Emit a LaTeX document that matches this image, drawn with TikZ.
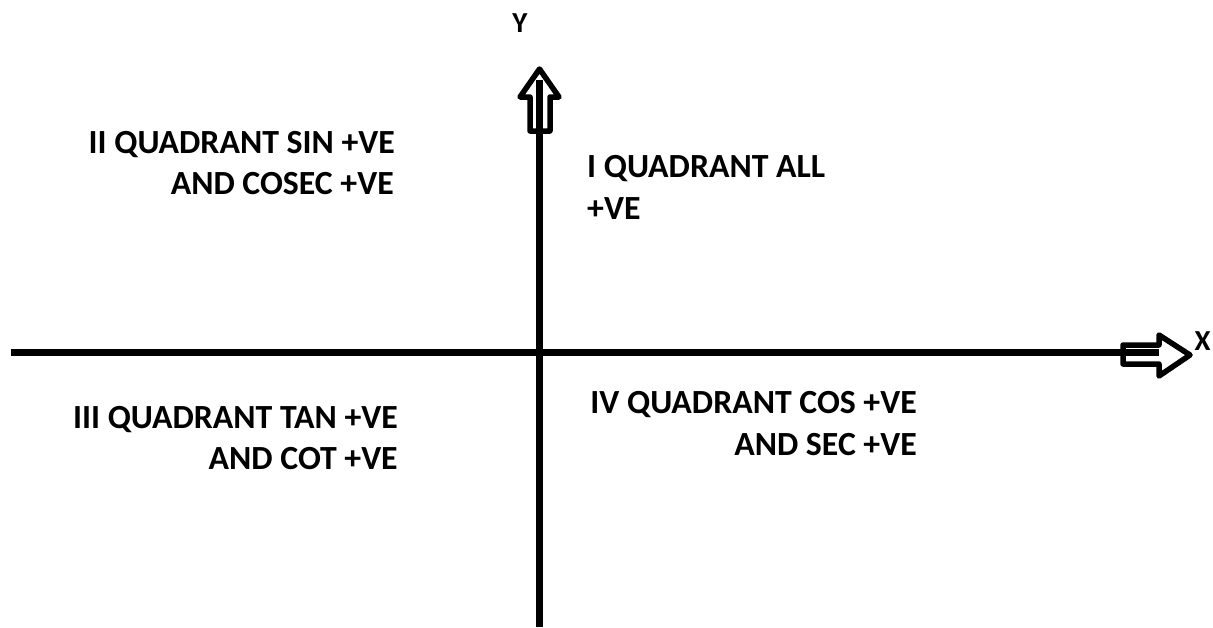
\documentclass[tikz,border=0pt]{standalone}
\usepackage{fontspec}
\setmainfont{Carlito}
\begin{document}
\begin{tikzpicture}[x=1pt, y=-1pt,
  axis/.style={line width=6.5pt},
  blockarrow/.style={line width=5.5pt, line join=round, fill=white},
  lbl/.style={font=\bfseries\fontsize{33.8}{41}\selectfont, inner sep=0pt},
  axlbl/.style={font=\bfseries\fontsize{29}{32}\selectfont, inner sep=0pt}]
  \useasboundingbox[fill=white] (0,0) rectangle (1213,627);

  % end points of the two axes
  \coordinate (xl) at (11,352.5);
  \coordinate (xr) at (1159,352.5);
  \coordinate (yb) at (539.5,627);
  \coordinate (yt) at (539.5,80);

  % hollow block arrow heads
  \draw[blockarrow] (530,131) -- (530,97) -- (520,97) -- (539.5,69)
        -- (559,97) -- (550,97) -- (550,131) -- cycle;
  \draw[blockarrow] (1123,345) -- (1159,345) -- (1159,335) -- (1190,355)
        -- (1159,376) -- (1159,364) -- (1123,364) -- cycle;

  % axes
  \draw[axis] (xl) -- (xr);
  \draw[axis] (yb) -- (yt);

  \node[axlbl] (ylab) at (520,23) {Y};
  \node[axlbl] (xlab) at (1202.5,341.5) {X};

  % quadrant captions
  \node[lbl, anchor=base east] (q2a) at (395,153) {II QUADRANT SIN +VE};
  \node[lbl, anchor=base east] (q2b) at (394,194.5) {AND COSEC +VE};

  \node[lbl, anchor=base west] (q1a) at (587,177.5) {I QUADRANT ALL};
  \node[lbl, anchor=base west] (q1b) at (587,219) {+VE};

  \node[lbl, anchor=base east] (q3a) at (398,428.5) {III QUADRANT TAN +VE};
  \node[lbl, anchor=base east] (q3b) at (398,469.5) {AND COT +VE};

  \node[lbl, anchor=base east] (q4a) at (917,413.5) {IV QUADRANT COS +VE};
  \node[lbl, anchor=base east] (q4b) at (917,455) {AND SEC +VE};
\end{tikzpicture}
\end{document}
